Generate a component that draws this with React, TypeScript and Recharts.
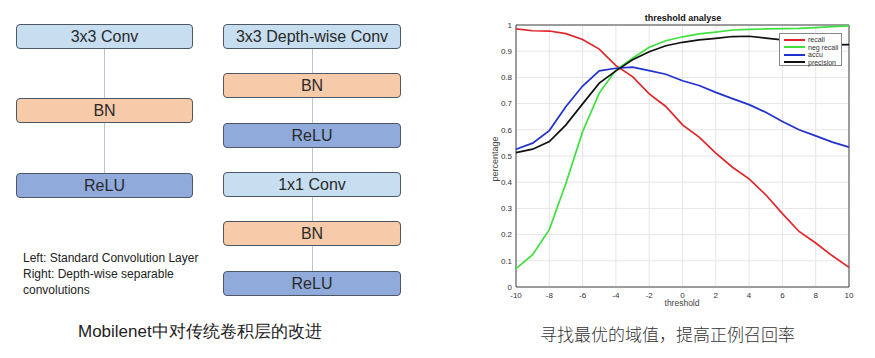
import React from "react";
import {
  LineChart,
  Line,
  CartesianGrid,
  XAxis,
  YAxis,
  Legend,
  ReferenceArea,
} from "recharts";

// threshold values on the x axis
const thresholds = [
  -10, -9, -8, -7, -6, -5, -4, -3, -2, -1, 0, 1, 2, 3, 4, 5, 6, 7, 8, 9, 10,
];
const recall = [
  0.985, 0.978, 0.977, 0.967, 0.945, 0.908, 0.845, 0.803, 0.737, 0.689, 0.619,
  0.572, 0.511, 0.457, 0.413, 0.352, 0.28, 0.212, 0.168, 0.119, 0.075,
];
const negRecall = [
  0.07, 0.123, 0.219, 0.396, 0.593, 0.74, 0.828, 0.873, 0.915, 0.94, 0.955,
  0.966, 0.973, 0.981, 0.983, 0.985, 0.986, 0.987, 0.99, 0.994, 0.997,
];
const accu = [
  0.526, 0.549, 0.597, 0.689, 0.767, 0.825, 0.835, 0.839, 0.826, 0.812, 0.787,
  0.769, 0.743, 0.719, 0.696, 0.667, 0.632, 0.6, 0.577, 0.553, 0.534,
];
const precision = [
  0.513, 0.526, 0.555, 0.619, 0.699, 0.778, 0.825, 0.867, 0.898, 0.921, 0.934,
  0.943, 0.949, 0.956, 0.957, 0.95, 0.943, 0.935, 0.93, 0.924, 0.925,
];
const seriesNames = ["recall", "neg recall", "accu", "precision"];
const xTicks = [-10, -8, -6, -4, -2, 0, 2, 4, 6, 8, 10];
const yTicks = [0, 0.1, 0.2, 0.3, 0.4, 0.5, 0.6, 0.7, 0.8, 0.9, 1];

// left diagram
const leftBlocks = ["3x3 Conv", "BN", "ReLU"];
const rightBlocks = ["3x3 Depth-wise Conv", "BN", "ReLU", "1x1 Conv", "BN", "ReLU"];
const notes = [
  "Left: Standard Convolution Layer",
  "Right: Depth-wise separable",
  "convolutions",
];

const blockColor = (name: string) =>
  name === "BN" ? "#f7caa9" : name === "ReLU" ? "#8faadb" : "#c7ddf0";

const sans = '"Liberation Sans", Arial, sans-serif';

const data = thresholds.map((t, i) => ({
  t,
  recall: recall[i],
  negRecall: negRecall[i],
  accu: accu[i],
  precision: precision[i],
}));

const Block = ({ name, left, top, width }: { name: string; left: number; top: number; width: number }) => (
  <div
    style={{
      position: "absolute",
      left,
      top,
      width,
      height: 25,
      boxSizing: "border-box",
      border: "1px solid #4d5866",
      borderRadius: 4,
      background: blockColor(name),
      color: "#2a2a2a",
      fontFamily: sans,
      fontSize: 16,
      lineHeight: "23px",
      textAlign: "center",
    }}
  >
    {name}
  </div>
);

const LegendBox = (props: any) => {
  const items = [...(props.payload || [])].sort(
    (a: any, b: any) => seriesNames.indexOf(a.value) - seriesNames.indexOf(b.value)
  );
  return (
    <div
      style={{
        width: 63,
        height: 33,
        boxSizing: "border-box",
        border: "1px solid #888",
        background: "#fff",
        padding: "2px 0 0 4px",
        fontFamily: sans,
        fontSize: 7,
        color: "#333",
      }}
    >
      {items.map((p: any) => (
        <div key={p.value} style={{ display: "flex", alignItems: "center", height: 7.5 }}>
          <span style={{ display: "inline-block", width: 21, height: 2, background: p.color, marginRight: 3 }} />
          {p.value}
        </div>
      ))}
    </div>
  );
};

const App = () => {
  const leftTops = [24, 98, 173];
  const rightTops = [24, 73, 123, 172, 221, 271];
  return (
    <div style={{ position: "absolute", left: 0, top: 0, width: 875, height: 358, background: "#fff", overflow: "hidden" }}>
      {/* connectors */}
      <div style={{ position: "absolute", left: 104, top: 49, width: 1, height: 124, background: "#b9c7d8" }} />
      <div style={{ position: "absolute", left: 312, top: 49, width: 1, height: 222, background: "#b9c7d8" }} />
      {leftBlocks.map((b, i) => (
        <Block key={"l" + i} name={b} left={16} top={leftTops[i]} width={177} />
      ))}
      {rightBlocks.map((b, i) => (
        <Block key={"r" + i} name={b} left={223} top={rightTops[i]} width={178} />
      ))}
      {notes.map((n, i) => (
        <div
          key={n}
          style={{ position: "absolute", left: 23, top: 251 + i * 16, fontFamily: sans, fontSize: 12, color: "#222", whiteSpace: "nowrap" }}
        >
          {n}
        </div>
      ))}
      <div style={{ position: "absolute", left: 78, top: 320, fontFamily: sans, fontSize: 17, color: "#222", whiteSpace: "nowrap" }}>
        Mobilenet中对传统卷积层的改进
      </div>

      {/* chart */}
      <div style={{ position: "absolute", left: 480, top: 0 }}>
        <LineChart
          width={380}
          height={310}
          data={data}
          margin={{ top: 25, right: 11, bottom: 3, left: 16 }}
        >
          <CartesianGrid stroke="#e6e6e6" />
          <XAxis
            dataKey="t"
            type="number"
            domain={[-10, 10]}
            ticks={xTicks}
            height={20}
            tickSize={0}
            tickMargin={5}
            axisLine={false}
            tick={{ fontSize: 8, fill: "#333", fontFamily: sans }}
          />
          <YAxis
            type="number"
            domain={[0, 1]}
            ticks={yTicks}
            width={20}
            tickSize={0}
            tickMargin={4}
            axisLine={false}
            tickFormatter={(v: number) => (v === 0 || v === 1 ? String(v) : v.toFixed(1))}
            tick={{ fontSize: 8, fill: "#333", fontFamily: sans }}
          />
          <ReferenceArea x1={-10} x2={10} y1={0} y2={1} fill="none" stroke="#444" strokeWidth={1} />
          <Line type="linear" dataKey="recall" name="recall" stroke="#e0262b" strokeWidth={1.7} dot={false} isAnimationActive={false} />
          <Line type="linear" dataKey="negRecall" name="neg recall" stroke="#3fe03f" strokeWidth={1.7} dot={false} isAnimationActive={false} />
          <Line type="linear" dataKey="accu" name="accu" stroke="#2031d0" strokeWidth={1.7} dot={false} isAnimationActive={false} />
          <Line type="linear" dataKey="precision" name="precision" stroke="#111" strokeWidth={1.7} dot={false} isAnimationActive={false} />
          <Legend
            layout="vertical"
            align="center"
            verticalAlign="middle"
            content={LegendBox}
            wrapperStyle={{ left: 299, top: 33, width: 63, height: 33 }}
          />
        </LineChart>
      </div>
      <div style={{ position: "absolute", left: 583, top: 13, width: 200, textAlign: "center", fontFamily: sans, fontSize: 9, fontWeight: "bold", color: "#111" }}>
        threshold analyse
      </div>
      <div style={{ position: "absolute", left: 632, top: 298, width: 100, textAlign: "center", fontFamily: sans, fontSize: 8.5, color: "#444" }}>
        threshold
      </div>
      <div
        style={{
          position: "absolute",
          left: 455,
          top: 154,
          width: 80,
          textAlign: "center",
          fontFamily: sans,
          fontSize: 9,
          color: "#444",
          transform: "rotate(-90deg)",
        }}
      >
        percentage
      </div>
      <div style={{ position: "absolute", left: 540, top: 321, fontFamily: '"Noto Sans CJK SC", sans-serif', fontSize: 17, color: "#333", whiteSpace: "nowrap", fontWeight: 300 }}>
        寻找最优的域值，提高正例召回率
      </div>
    </div>
  );
};

export default App;
